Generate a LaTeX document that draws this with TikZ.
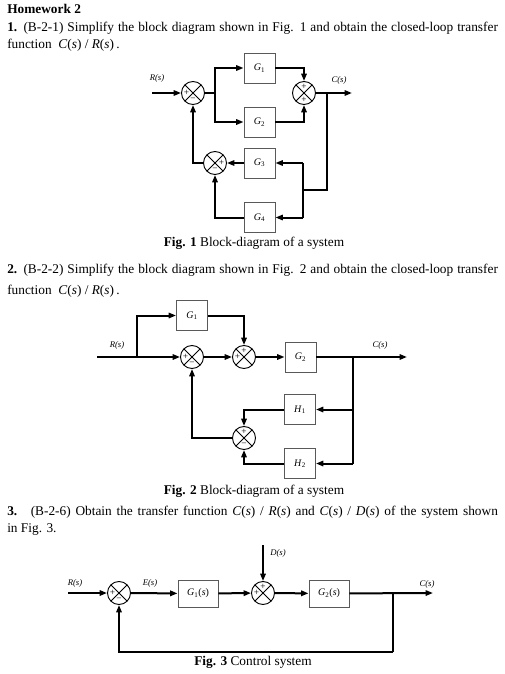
\documentclass[tikz,border=0pt]{standalone}
\usepackage{fontspec}
\setmainfont{Liberation Serif}
\usetikzlibrary{arrows.meta,calc}
\newcommand\Gs[2]{\textit{#1}\textsubscript{#2}}
\newcommand\Cs{\textit{C}(\textit{s})}
\newcommand\Rs{\textit{R}(\textit{s})}
\newcommand\Ds{\textit{D}(\textit{s})}
\tikzset{
 conn/.style={line width=1.5pt},
 arr/.style={conn,-{Triangle[length=5.5pt,width=4pt]}},
 blk/.style={draw=black!65, line width=0.7pt, minimum width=23.25pt, minimum height=22.5pt, inner sep=0pt, font=\fontsize{7.5}{8}\selectfont},
 blkw/.style={blk, minimum width=30pt, minimum height=20.25pt},
 sumj/.style={circle, draw, line width=0.7pt, minimum size=17.25pt, inner sep=0pt,
   path picture={\draw[line width=0.6pt] (path picture bounding box.north west) -- (path picture bounding box.south east)
     (path picture bounding box.north east) -- (path picture bounding box.south west);}},
 sg/.style={font=\fontsize{7}{7}\selectfont, inner sep=0pt, fill=white, minimum size=0pt},
 lab/.style={font=\fontsize{6.5}{7}\selectfont\itshape, inner sep=0pt},
 body/.style={font=\fontsize{10}{12}\selectfont, inner sep=0pt, anchor=base west},
 capt/.style={font=\fontsize{10}{12}\selectfont, inner sep=0pt, anchor=base},
}
\begin{document}
\begin{tikzpicture}[x=0.75pt,y=-0.75pt]
\fill[white] (0,0) rectangle (504,674);
\useasboundingbox (0,0) rectangle (504,674);
% ---------- text ----------
\node[body] (t0) at (7,14) {\textbf{Homework 2}};
\node[body] (t1) at (7,31.5) {\makebox[368pt][s]{\textbf{1.} (B-2-1) Simplify the block diagram shown in Fig. 1 and obtain the closed-loop transfer}};
\node[body] (t2) at (7,49) {function \ \Cs\ / \Rs\,.};
\node[body] (t3) at (7,273) {\makebox[368pt][s]{\textbf{2.} (B-2-2) Simplify the block diagram shown in Fig. 2 and obtain the closed-loop transfer}};
\node[body] (t4) at (7,294) {function \ \Cs\ / \Rs\,.};
\node[body] (t5) at (7,515) {\makebox[368pt][s]{\textbf{3.} \ (B-2-6) Obtain the transfer function \Cs\ / \Rs\ and \Cs\ / \Ds\ of the system shown}};
\node[body] (t6) at (7,532) {in Fig. 3.};
% ---------- Fig. 1 ----------
\node[lab] (a_R) at (157,78) {R(s)};
\coordinate (a_in) at (152,93);
\node[sumj] (a_s1) at (193,93) {};
\node[sg] (a_s1l) at ($(a_s1)+(-6.5,0)$) {+};
\node[sg] (a_s1b) at ($(a_s1)+(0,6.5)$) {−};
\coordinate (a_sp) at (215,93);
\node[blk] (a_G1) at (259.5,68) {\Gs{G}{1}};
\node[blk] (a_G2) at (259.5,122) {\Gs{G}{2}};
\node[sumj] (a_s2) at (304,93) {};
\node[sg] (a_s2t) at ($(a_s2)+(0,-6.5)$) {+};
\node[sg] (a_s2b) at ($(a_s2)+(0,6.5)$) {+};
\coordinate (a_out) at (352,93);
\node[lab] (a_C) at (339,80) {C(s)};
\coordinate (a_br) at (327,93);
\coordinate (a_br2) at (327,190);
\coordinate (a_fb) at (303,190);
\node[blk] (a_G3) at (259.5,163) {\Gs{G}{3}};
\node[blk] (a_G4) at (259.5,217.5) {\Gs{G}{4}};
\node[sumj] (a_s3) at (215,163) {};
\node[sg] (a_s3r) at ($(a_s3)+(6.5,0)$) {+};
\node[sg] (a_s3b) at ($(a_s3)+(0,6.5)$) {−};
\draw[arr] (a_in) -- (a_s1);
\draw[conn] (a_s1) -- (a_sp);
\draw[arr] (a_sp) |- (a_G1);
\draw[arr] (a_sp) |- (a_G2);
\draw[arr] (a_G1) -| (a_s2);
\draw[arr] (a_G2) -| (a_s2);
\draw[arr] (a_s2) -- (a_out);
\draw[conn] (a_br) -- (a_br2) -- (a_fb);
\draw[conn] (a_fb |- a_G3) -- (a_fb |- a_G4);
\draw[arr] (a_fb |- a_G3) -- (a_G3);
\draw[arr] (a_fb |- a_G4) -- (a_G4);
\draw[arr] (a_G3) -- (a_s3);
\draw[arr] (a_G4) -| (a_s3);
\draw[arr] (a_s3) -| (a_s1);
\node[capt] (a_cap) at (254,246) {\textbf{Fig. 1} Block-diagram of a system};
% ---------- Fig. 2 ----------
\coordinate (b_in) at (97,357);
\node[lab] (b_R) at (117,345) {R(s)};
\coordinate (b_sp) at (137,357);
\node[blk] (b_G1) at (192,315.5) {\Gs{G}{1}};
\node[sumj] (b_s1) at (192,357) {};
\node[sg] (b_s1l) at ($(b_s1)+(-6.5,0)$) {+};
\node[sg] (b_s1b) at ($(b_s1)+(0,6.5)$) {−};
\node[sumj] (b_s2) at (244,357) {};
\node[sg] (b_s2t) at ($(b_s2)+(0,-6.5)$) {+};
\node[sg] (b_s2l) at ($(b_s2)+(-6.5,0)$) {+};
\node[blk] (b_G2) at (300.5,357) {\Gs{G}{2}};
\coordinate (b_out) at (407,357);
\node[lab] (b_C) at (380,345) {C(s)};
\coordinate (b_br) at (353,357);
\node[blk] (b_H1) at (300,409.5) {\Gs{H}{1}};
\node[blk] (b_H2) at (300,463.5) {\Gs{H}{2}};
\node[sumj] (b_s3) at (244,438) {};
\node[sg] (b_s3t) at ($(b_s3)+(0,-6.5)$) {+};
\node[sg] (b_s3b) at ($(b_s3)+(0,6.5)$) {−};
\draw[conn] (b_in) -- (b_sp);
\draw[arr] (b_sp) |- (b_G1);
\draw[arr] (b_sp) -- (b_s1);
\draw[arr] (b_s1) -- (b_s2);
\draw[arr] (b_G1) -| (b_s2);
\draw[arr] (b_s2) -- (b_G2);
\draw[arr] (b_G2) -- (b_out);
\draw[conn] (b_br) -- (b_br |- b_H2);
\draw[arr] (b_br |- b_H1) -- (b_H1);
\draw[arr] (b_br |- b_H2) -- (b_H2);
\draw[arr] (b_H1) -| (b_s3);
\draw[arr] (b_H2) -| (b_s3);
\draw[arr] (b_s3) -| (b_s1);
\node[capt] (b_cap) at (254,494) {\textbf{Fig. 2} Block-diagram of a system};
% ---------- Fig. 3 ----------
\node[lab] (c_R) at (75,583) {R(s)};
\coordinate (c_in) at (68,593);
\node[sumj] (c_s1) at (119,593) {};
\node[sg] (c_s1l) at ($(c_s1)+(-6.5,0)$) {+};
\node[sg] (c_s1b) at ($(c_s1)+(0,6.5)$) {−};
\node[lab] (c_E) at (150,583) {E(s)};
\node[blkw] (c_G1) at (198,593.5) {\textit{G}\textsubscript{1}(\textit{s})};
\node[sumj] (c_s2) at (263,593) {};
\node[sg] (c_s2t) at ($(c_s2)+(0,-6.5)$) {+};
\node[sg] (c_s2l) at ($(c_s2)+(-6.5,0)$) {+};
\coordinate (c_d) at (263,545);
\node[lab] (c_D) at (278,553) {D(s)};
\node[blkw] (c_G2) at (329,593.5) {\textit{G}\textsubscript{2}(\textit{s})};
\coordinate (c_out) at (433,593);
\node[lab] (c_C) at (427,584) {C(s)};
\coordinate (c_br) at (393,593);
\coordinate (c_br2) at (393,652);
\draw[arr] (c_in) -- (c_s1);
\draw[arr] (c_s1) -- (c_G1);
\draw[arr] (c_G1) -- (c_s2);
\draw[arr] (c_d) -- (c_s2);
\draw[arr] (c_s2) -- (c_G2);
\draw[arr] (c_G2) -- (c_out);
\draw[conn] (c_br) -- (c_br2);
\draw[arr] (c_br2) -| (c_s1);
\node[capt] (c_cap) at (253,665) {\textbf{Fig. 3} Control system};
\end{tikzpicture}
\end{document}
